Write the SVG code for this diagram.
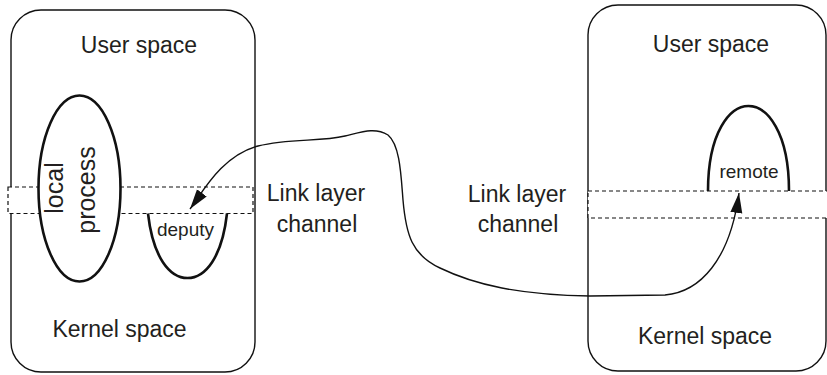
<svg xmlns="http://www.w3.org/2000/svg" width="827" height="375" viewBox="0 0 827 375">
<style>
.box{fill:#fff;stroke:#111;stroke-width:1.4}
.band{fill:#fff;stroke:#111;stroke-width:1.2;stroke-dasharray:4 3}
.proc{fill:#fff;stroke:#111;stroke-width:2.6}
.open{fill:none;stroke:#111;stroke-width:2.6}
.t{font-family:"Liberation Sans",Arial,sans-serif;fill:#231f20;text-anchor:middle}
.big{font-size:23px}
.small{font-size:19px}
.rot{font-size:25px}
.conn{fill:none;stroke:#111;stroke-width:1.4}
</style>
<defs>
<marker id="ah" markerUnits="userSpaceOnUse" markerWidth="22" markerHeight="14" refX="20" refY="6" orient="auto-start-reverse" viewBox="0 0 22 14">
<path d="M0,0 L20,6 L0,12 z" fill="#111"/>
</marker>
</defs>
<rect width="827" height="375" fill="#fff"/>
<g id="left-host">
<rect class="box" x="11" y="10" width="244" height="362" rx="30" ry="30"/>
<text class="t big" x="139" y="53">User space</text>
<text class="t big" x="119.5" y="337">Kernel space</text>
</g>
<g id="right-host">
<rect class="box" x="588" y="5" width="238" height="366" rx="30" ry="30"/>
<text class="t big" x="711" y="52">User space</text>
<text class="t big" x="705" y="344">Kernel space</text>
</g>
<g id="left-channel">
<rect class="band" x="8" y="187" width="245" height="26.5"/>
</g>
<g id="right-channel">
<rect class="band" x="588" y="191" width="242" height="27"/>
</g>
<g id="local-process">
<ellipse class="proc" cx="79.5" cy="188.5" rx="41" ry="93"/>
<text class="t rot" transform="translate(63,188) rotate(-90)">local</text>
<text class="t rot" transform="translate(95,190) rotate(-90)">process</text>
</g>
<g id="deputy">
<path class="open" d="M148,213.5 C153,258 170,278 187.5,278 C205,278 222,258 227,213.5"/>
<text class="t small" x="185.5" y="236">deputy</text>
</g>
<g id="remote">
<path class="open" d="M708,191 C708,132 730,106 748.5,106 C767,106 789,132 789,191"/>
<text class="t small" x="749" y="178">remote</text>
</g>
<g id="labels">
<text class="t big" x="316" y="201">Link layer</text>
<text class="t big" x="317" y="232">channel</text>
<text class="t big" x="517" y="202">Link layer</text>
<text class="t big" x="518" y="232">channel</text>
</g>
<g id="connectors">
<path class="conn" marker-start="url(#ah)" marker-end="url(#ah)" d="M190,209 C204,190 222,156 258,146 C290,138 320,142 345,136 C362,132 375,127 388,135 C400,145 401,175 403,200 C406,235 412,255 440,268 C475,285 520,295 590,296 L665,295 C700,292 730,260 739,193"/>
</g>
</svg>
